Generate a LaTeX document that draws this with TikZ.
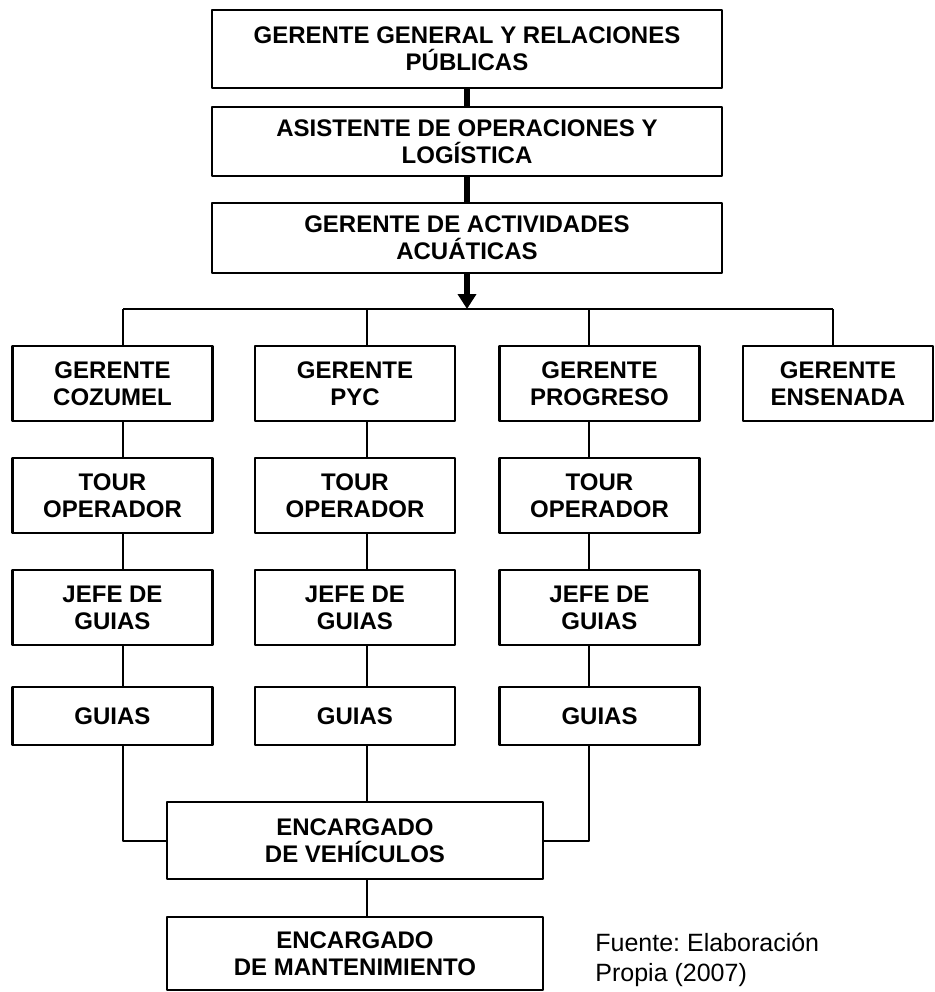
\documentclass[tikz,border=0pt]{standalone}
\usepackage{fontspec}
\setmainfont{Liberation Sans}
\usetikzlibrary{arrows.meta}
\tikzset{caja/.style={draw, line width=1.2pt, align=center, inner sep=0pt, font=\fontsize{12}{13.5}\selectfont\bfseries},
	cajacol/.style={caja, minimum width=100pt, minimum height=37.5pt},
	linea/.style={line width=1pt},
	gruesa/.style={line width=2.6pt}}
\begin{document}
\begin{tikzpicture}[x=0.5pt, y=-0.5pt, line join=round, >={Triangle[length=7.5pt,width=9pt]}]
	\def\cA{123} \def\cB{367} \def\cC{589} \def\cD{833} % columnas de conectores
	\def\yG{383.5} \def\yT{495.5} \def\yJ{607.5} \def\yU{716} \def\yB{309} % filas y barra
	\useasboundingbox (0,0) rectangle (934,992);
	\node[caja, minimum width=255pt, minimum height=39pt] (gg) at (467,49) {GERENTE GENERAL Y RELACIONES\\PÚBLICAS};
	\node[caja, minimum width=255pt, minimum height=34.5pt] (asis) at (467,141.5) {ASISTENTE DE OPERACIONES Y\\LOGÍSTICA};
	\node[caja, minimum width=255pt, minimum height=35pt] (gaa) at (467,238) {GERENTE DE ACTIVIDADES\\ACUÁTICAS};
	\draw[gruesa] (gg) -- (asis);
	\draw[gruesa] (asis) -- (gaa);
	\coordinate (bA) at (\cA,\yB); \coordinate (bB) at (\cB,\yB);
	\coordinate (bC) at (\cC,\yB); \coordinate (bD) at (\cD,\yB);
	\draw[gruesa,->] (gaa.south) -- (gaa.south |- bA);
	\draw[linea] (bA) -- (bD);
	% gerentes de sede
	\foreach \k/\x/\sede in {A/112.5/COZUMEL, B/355/PYC, C/599.5/PROGRESO}{
		\node[cajacol] (g\k) at (\x,\yG) {GERENTE\\\sede};
		\node[cajacol] (t\k) at (\x,\yT) {TOUR\\OPERADOR};
		\node[cajacol] (j\k) at (\x,\yJ) {JEFE DE\\GUIAS};
		\node[cajacol, minimum height=29pt] (u\k) at (\x,\yU) {GUIAS};
		\draw[linea] (b\k) -- (g\k.north -| b\k) (g\k.south -| b\k) -- (t\k.north -| b\k)
			(t\k.south -| b\k) -- (j\k.north -| b\k) (j\k.south -| b\k) -- (u\k.north -| b\k);
	}
	\node[cajacol, minimum width=95pt] (gD) at (838,\yG) {GERENTE\\ENSENADA};
	\draw[linea] (bD) -- (gD.north -| bD);
	\node[caja, minimum width=188pt, minimum height=38.5pt] (veh) at (355,840.5) {ENCARGADO\\DE VEHÍCULOS};
	\node[caja, minimum width=188pt, minimum height=36.5pt] (man) at (355,953.5) {ENCARGADO\\DE MANTENIMIENTO};
	\draw[linea] (uA.south -| bA) |- (veh.west);
	\draw[linea] (uC.south -| bC) |- (veh.east);
	\draw[linea] (uB.south -| bB) -- (veh.north -| bB);
	\draw[linea] (veh.south -| bB) -- (man.north -| bB);
	\node[anchor=west, align=left, inner sep=0pt, font=\fontsize{12.5}{15}\selectfont\frenchspacing] (fuente) at (595,960) {Fuente: Elaboración\\Propia (2007)};
\end{tikzpicture}
\end{document}
